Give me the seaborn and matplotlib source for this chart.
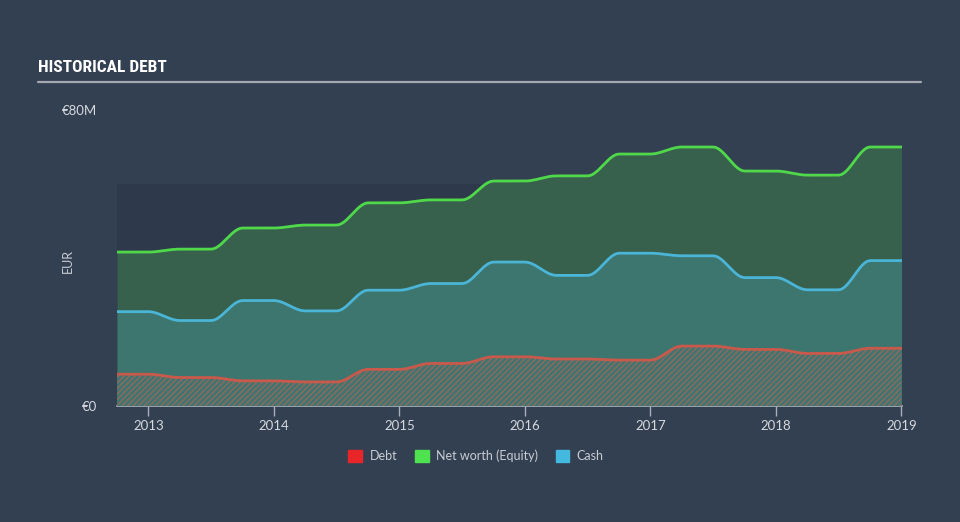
import numpy as np
import pandas as pd
import matplotlib
matplotlib.use("Agg")
import matplotlib.pyplot as plt
from matplotlib.patches import Patch
from matplotlib import font_manager
import seaborn as sns

# ---- data (EUR millions), quarterly ----
dates = [2012.75, 2013.0, 2013.25, 2013.5, 2013.75, 2014.0, 2014.25, 2014.5,
         2014.75, 2015.0, 2015.25, 2015.5, 2015.75, 2016.0, 2016.25, 2016.5,
         2016.75, 2017.0, 2017.25, 2017.5, 2017.75, 2018.0, 2018.25, 2018.5,
         2018.75, 2019.0]
equity = [41.6, 41.6, 42.4, 42.4, 48.1, 48.1, 48.9, 48.9,
          54.9, 54.9, 55.7, 55.7, 60.8, 60.8, 62.2, 62.2,
          68.1, 68.1, 70.0, 70.0, 63.5, 63.5, 62.4, 62.4,
          70.0, 70.0]
cash = [25.5, 25.5, 23.1, 23.1, 28.5, 28.5, 25.7, 25.7,
        31.3, 31.3, 33.1, 33.1, 38.9, 38.9, 35.3, 35.3,
        41.3, 41.3, 40.6, 40.6, 34.7, 34.7, 31.4, 31.4,
        39.3, 39.3]
debt = [8.6, 8.6, 7.7, 7.7, 6.8, 6.8, 6.5, 6.5,
        9.9, 9.9, 11.5, 11.5, 13.3, 13.3, 12.7, 12.7,
        12.4, 12.4, 16.2, 16.2, 15.3, 15.3, 14.2, 14.2,
        15.6, 15.6]
year_ticks = [2013, 2014, 2015, 2016, 2017, 2018, 2019]
y_ticks = [0, 80]
y_ticklabels = ["€0", "€80M"]
series_names = ["Debt", "Net worth (Equity)", "Cash"]


def monotone(x, y, n=12):
    """Monotone cubic (Fritsch-Carlson) curve through the points, for drawing."""
    x = np.asarray(x, float); y = np.asarray(y, float)
    h = np.diff(x); d = np.diff(y) / h
    m = np.zeros_like(y)
    m[0], m[-1] = d[0], d[-1]
    for i in range(1, len(y) - 1):
        if d[i - 1] * d[i] <= 0:
            m[i] = 0
        else:
            w1 = 2 * h[i] + h[i - 1]; w2 = h[i] + 2 * h[i - 1]
            m[i] = (w1 + w2) / (w1 / d[i - 1] + w2 / d[i])
    xs, ys = [], []
    for i in range(len(h)):
        t = np.linspace(0, 1, n, endpoint=False)
        h00 = 2*t**3 - 3*t**2 + 1; h10 = t**3 - 2*t**2 + t
        h01 = -2*t**3 + 3*t**2; h11 = t**3 - t**2
        xs.append(x[i] + t * h[i])
        ys.append(h00*y[i] + h10*h[i]*m[i] + h01*y[i+1] + h11*h[i]*m[i+1])
    xs.append([x[-1]]); ys.append([y[-1]])
    return np.concatenate(xs), np.concatenate(ys)


# pick a condensed font for the title if one is installed
title_family = "DejaVu Sans"
title_stretch = "normal"
names = {f.name for f in font_manager.fontManager.ttflist}
for cand in ["Liberation Sans Narrow", "DejaVu Sans Condensed", "Roboto Condensed",
             "Open Sans Condensed", "Noto Sans Condensed"]:
    if cand in names:
        title_family = cand
        break
else:
    conds = [f for f in font_manager.fontManager.ttflist
             if f.stretch in ("condensed", "semi-condensed", "extra-condensed")]
    if conds:
        title_family = conds[0].name
        title_stretch = conds[0].stretch

BG = "#334052"
sns.set_theme(style="dark")
plt.rcParams["font.family"] = ["Lato", "DejaVu Sans"]

fig = plt.figure(figsize=(9.6, 5.22), dpi=100, facecolor=BG)
ax = fig.add_axes([117/960, 1-406/522, 785/960, 296/522])
ax.set_facecolor(BG)

# darker background band
ax.axhspan(0, 60, color="#2e3a4b", zorder=0, lw=0)

xe, ye = monotone(dates, equity)
xc, yc = monotone(dates, cash)
xd, yd = monotone(dates, debt)

ax.fill_between(xe, 0, ye, color="#37604d", lw=0, zorder=1)
ax.fill_between(xc, 0, yc, color="#3d756f", lw=0, zorder=2)
plt.rcParams["hatch.linewidth"] = 1.0
ax.fill_between(xd, 0, yd, facecolor="#3f7570", edgecolor="#8f6a5e",
                hatch="//////", lw=0, zorder=3)

lines = pd.concat([
    pd.DataFrame({"x": xe, "y": ye, "s": "Net worth (Equity)"}),
    pd.DataFrame({"x": xc, "y": yc, "s": "Cash"}),
    pd.DataFrame({"x": xd, "y": yd, "s": "Debt"}),
])
sns.lineplot(data=lines, x="x", y="y", hue="s", sort=False, estimator=None,
             palette={"Net worth (Equity)": "#4fd84a", "Cash": "#4ab5d6",
                      "Debt": "#c9594a"},
             lw=2, ax=ax, legend=False, zorder=4)

ax.set_xlim(dates[0], dates[-1] + 0.004)
ax.set_ylim(0, 80)
ax.set_xticks(year_ticks)
ax.set_xticklabels([str(y) for y in year_ticks])
ax.set_yticks(y_ticks)
ax.set_yticklabels(y_ticklabels)
ax.set_xlabel("")
ax.set_ylabel("EUR", color="#c8ccd2", fontsize=9)
ax.yaxis.set_label_coords(-0.055, 0.49)
ax.grid(False)
for s in ["top", "right", "left"]:
    ax.spines[s].set_visible(False)
ax.spines["bottom"].set_color("#a7b0bc")
ax.spines["bottom"].set_linewidth(1.2)
ax.tick_params(axis="x", colors="#a7b0bc", length=7, width=1, direction="out",
               labelcolor="#d6d9de", labelsize=9.5, pad=3, bottom=True)
ax.tick_params(axis="y", length=0, labelcolor="#d6d9de", labelsize=9.5, pad=14)

# title and rule
fig.text(38/960, 1-68/522, "HISTORICAL DEBT", color="white", fontsize=12.5,
         fontweight="bold", family=[title_family, "DejaVu Sans"],
         fontstretch=title_stretch, va="center", ha="left")
fig.add_artist(plt.Line2D([38/960, 921/960], [1-82/522, 1-82/522],
                          color="#a4a9b1", lw=1.6))

handles = [Patch(color="#e8262a"), Patch(color="#4ee34e"), Patch(color="#44b9e0")]
leg = fig.legend(handles, series_names, loc="center", bbox_to_anchor=(0.496, 1-456/522),
                 ncol=3, frameon=False, fontsize=9, handlelength=1.1, handleheight=1.1,
                 columnspacing=1.4, handletextpad=0.6)
for t in leg.get_texts():
    t.set_color("#c8ccd2")

fig.savefig("out.png", dpi=100, facecolor=BG)
